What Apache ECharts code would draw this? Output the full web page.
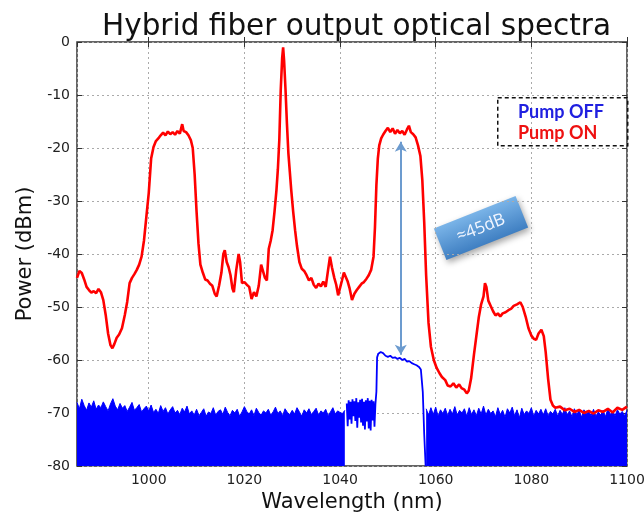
<!DOCTYPE html>
<html>
<head>
<meta charset="utf-8">
<script src="https://cdn.jsdelivr.net/npm/echarts@6/dist/echarts.min.js"></script>
<style>html,body{margin:0;padding:0;background:#fff;}#chart{width:644px;height:513px;}</style>
</head>
<body>
<div id="chart"></div>
<script>
// ---- Data ----
var xTicks = [1000, 1020, 1040, 1060, 1080, 1100];
var yTicks = [0, -10, -20, -30, -40, -50, -60, -70, -80];

// Pump ON (red) spectrum
var onWavelength = [985,985.5,986,986.5,987,987.5,988,988.5,989,989.5,990,990.5,991,991.5,992,992.4,992.8,993.3,993.8,994.4,995,995.5,996,996.5,997,997.5,998,998.5,999,999.5,1000,1000.5,1001,1001.5,1002,1002.5,1003,1003.5,1004,1004.5,1005,1005.5,1006,1006.5,1007,1007.3,1007.8,1008.3,1008.8,1009.2,1009.6,1010,1010.4,1010.8,1011.3,1011.8,1012.3,1012.8,1013.3,1013.8,1014.2,1014.7,1015.2,1015.6,1015.9,1016.3,1016.7,1017.1,1017.5,1017.8,1018.3,1018.8,1019.1,1019.5,1020,1020.5,1021,1021.5,1022,1022.5,1023,1023.5,1023.9,1024.3,1024.7,1025.1,1025.5,1025.9,1026.3,1026.7,1027,1027.3,1027.6,1027.9,1028.1,1028.3,1028.6,1028.9,1029.2,1029.5,1029.8,1030.2,1030.6,1031,1031.5,1032,1032.5,1033,1033.5,1034,1034.5,1035,1035.5,1036,1036.5,1037,1037.5,1037.9,1038.3,1038.8,1039.2,1039.6,1040,1040.4,1040.8,1041.2,1041.6,1042,1042.5,1043,1043.5,1044,1044.5,1045,1045.5,1046,1046.5,1047,1047.3,1047.6,1047.9,1048.2,1048.6,1049,1049.5,1050,1050.5,1051,1051.5,1052,1052.5,1053,1053.5,1054,1054.4,1054.8,1055.3,1055.8,1056.3,1056.8,1057.2,1057.6,1058,1058.5,1059,1059.6,1060.2,1060.8,1061.3,1062,1062.5,1063.1,1063.7,1064.3,1064.9,1065.4,1066,1066.5,1066.9,1067.4,1068,1068.5,1069,1069.5,1070,1070.3,1070.6,1071,1071.5,1072,1072.5,1073,1073.5,1074,1074.6,1075.2,1075.8,1076.3,1077,1077.7,1078.2,1078.8,1079.4,1080,1080.5,1081,1081.5,1082.1,1082.6,1083,1083.5,1084,1084.5,1085,1086,1087,1088,1089,1090,1091,1092,1093,1094,1095,1096,1097,1098,1099,1100];
var onPower = [-44.5,-43.2,-43.6,-44.8,-46.2,-46.8,-47.3,-47.0,-47.4,-46.6,-47.2,-48.7,-51.5,-55,-57.2,-57.8,-57.0,-55.8,-55.2,-54,-51.5,-49,-45.5,-44.5,-43.8,-43,-42,-40.5,-37.5,-33,-28.5,-22,-19.8,-18.7,-18.2,-17.6,-17.1,-17.6,-16.9,-17.4,-17.0,-17.5,-16.8,-17.3,-15.5,-16.8,-17.0,-17.6,-18.5,-20,-25,-32,-38,-42,-43.5,-44.8,-45,-45.6,-46,-47.5,-48,-46,-43.5,-40,-39.3,-41.5,-42.5,-44,-46.5,-47.2,-43,-40,-41.5,-45.5,-45.3,-45.8,-46.2,-48.5,-47.2,-48,-46,-42,-41.8,-44.5,-45,-39,-37.5,-35.5,-32,-28,-24,-18.5,-9,-3,-1,-3.5,-9,-15.5,-21,-24.5,-28,-32,-35.5,-38.5,-41.5,-42.8,-43.2,-44,-45,-44.5,-45.8,-46.4,-45.6,-46.1,-45.2,-46.2,-43,-40.5,-42.5,-44.5,-45.8,-47.8,-47.6,-45,-43.5,-43.2,-45.2,-46.5,-48.7,-47.5,-46.8,-46.2,-45.6,-45.3,-44.7,-44,-43,-40.5,-35,-27,-22,-19.5,-18.2,-17.5,-16.8,-16.2,-17.0,-16.3,-17.3,-16.6,-17.2,-16.8,-17.5,-16.5,-15.8,-17.0,-17.4,-18.0,-19.5,-21.5,-26,-34,-44,-53,-57.5,-60,-61.5,-62.5,-63.2,-63.8,-64.8,-65,-64.4,-65.2,-64.6,-65.3,-65.6,-66.3,-65.8,-63.5,-59,-55.5,-52,-49.5,-48,-45.5,-46.2,-48.8,-49.8,-50.8,-51.6,-51.2,-51.8,-51.2,-51,-50.6,-50.3,-49.8,-49.5,-49.1,-50,-51.8,-54,-55.4,-56,-56.2,-55,-54.3,-55.5,-58.5,-63.5,-67.5,-68.6,-69,-68.8,-69.5,-69.2,-69.8,-69.4,-70,-69.6,-70.1,-69.5,-69.8,-69.2,-69.9,-69,-69.4,-68.8];

// Pump OFF (blue) noise floor, sampled every 0.5 nm
var offFloorLeftStart = 985;
var offFloorLeft = [-68.0,-69.2,-67.4,-68.6,-69.5,-68.1,-68.9,-67.7,-69.3,-68.5,
 -69.0,-67.9,-68.8,-69.6,-68.3,-67.3,-68.7,-69.4,-68.2,-69.1,
 -68.6,-69.7,-68.9,-68.0,-69.5,-69.0,-68.4,-69.8,-69.2,-68.7,
 -69.6,-68.5,-69.9,-69.3,-70.1,-68.6,-69.7,-69.0,-70.2,-69.4,
 -68.8,-70.0,-69.5,-70.3,-69.1,-69.8,-68.7,-70.2,-69.6,-70.4,
 -69.3,-70.5,-69.9,-69.2,-70.6,-69.8,-70.1,-69.0,-70.4,-69.7,
 -69.4,-70.3,-68.9,-69.9,-70.5,-69.5,-70.0,-69.3,-70.6,-69.8,
 -68.8,-69.7,-70.2,-69.4,-70.5,-69.1,-69.9,-70.4,-69.6,-70.0,
 -69.3,-70.4,-69.8,-68.9,-70.1,-69.6,-70.5,-69.2,-69.9,-70.3,
 -69.5,-70.2,-69.0,-69.8,-70.6,-69.4,-70.0,-69.2,-70.3,-69.7,
 -69.1,-70.4,-69.6,-70.0,-69.3,-70.5,-69.8,-69.0,-70.2,-69.6,
 -69.9,-70.1,-69.5];
var offFloorRightStart = 1058;
var offFloorRight = [-69.2,-70.4,-69.0,-70.3,-68.9,-70.6,-69.4,-70.1,-69.1,-70.5,
 -69.3,-70.2,-68.8,-70.4,-69.5,-70.0,-69.2,-70.6,-69.0,-70.3,
 -69.4,-70.5,-69.1,-70.2,-68.7,-70.4,-69.3,-70.1,-69.6,-70.7,
 -69.0,-70.3,-69.5,-70.8,-69.2,-70.0,-68.9,-70.5,-69.4,-70.9,
 -69.1,-70.3,-69.6,-70.1,-69.0,-70.6,-69.5,-70.2,-69.3,-70.4,
 -69.2,-70.5,-69.7,-70.2,-69.3,-70.6,-69.5,-70.3,-69.0,-70.4,
 -69.6,-70.7,-69.2,-70.3,-69.5,-70.8,-69.4,-70.2,-69.7,-70.5,
 -69.3,-70.6,-69.8,-70.4,-69.5,-70.7,-69.2,-70.3,-69.6,-70.5,
 -69.4,-70.2,-69.7,-70.5,-69.5];

// Pump OFF (blue) signal band
var offSignalWavelength = [1041.4,1041.6,1041.8,1042.0,1042.2,1042.4,1042.6,1042.8,1043.0,1043.2,1043.4,1043.6,1043.8,1044.0,1044.2,1044.4,1044.6,1044.8,1045.0,1045.2,1045.4,1045.6,1045.8,1046.0,1046.2,1046.4,1046.6,1046.8,1047.0,1047.2,1047.4,1047.6,1047.75,1048,1048.5,1049,1049.5,1050,1050.5,1051,1051.5,1052,1052.5,1053,1053.5,1054,1054.5,1055,1055.5,1056,1056.5,1056.9,1057.3,1057.6,1057.9];
var offSignalPower = [-68.2,-72.5,-67.6,-71.2,-67.9,-72.0,-67.4,-70.6,-67.8,-71.5,-67.2,-72.8,-68.0,-70.9,-67.5,-71.8,-67.3,-72.4,-67.9,-73.1,-67.6,-71.6,-67.2,-72.9,-67.7,-73.3,-67.5,-71.4,-67.8,-72.6,-68.3,-66,-59.5,-58.8,-58.5,-58.7,-59.2,-59.4,-59.2,-59.6,-59.5,-59.8,-59.6,-60,-59.8,-60.3,-60.2,-60.6,-60.8,-61,-61.3,-61.8,-66,-74,-80];

// Gain annotation (arrow between the two spectra)
var arrowWavelength = 1052.7;
var arrowTop = -18.8;
var arrowBottom = -59;
var gainLabel = '\u224845dB';

var legendNames = ['Pump OFF', 'Pump ON'];

// ---- Build series data ----
function zip(xs, ys) { return xs.map(function (x, i) { return [x, ys[i]]; }); }
function sampled(start, ys) { return ys.map(function (y, i) { return [start + i * 0.5, y]; }); }

var onData = zip(onWavelength, onPower);
var floorData = sampled(offFloorLeftStart, offFloorLeft).concat([[null, null]]).concat(sampled(offFloorRightStart, offFloorRight));
var offSignalData = zip(offSignalWavelength, offSignalPower);

var BLUE = '#0000ff', RED = '#ff0000';
var FONT = 'DejaVu Sans';

var chart = echarts.init(document.getElementById('chart'), null, {renderer: 'canvas'});
chart.setOption({
  animation: false,
  backgroundColor: '#ffffff',
  title: {
    text: 'Hybrid fiber output optical spectra',
    left: 97, top: 7,
    textStyle: {fontFamily: FONT, fontSize: 29.5, fontWeight: 'normal', color: '#111'}
  },
  grid: {left: 77, right: 17, top: 42, bottom: 47, show: true, borderColor: '#333', borderWidth: 1.5,
    backgroundColor: 'transparent', containLabel: false, outerBoundsMode: 'none'},
  legend: {
    orient: 'vertical', left: 508, top: 98, itemWidth: 0, itemHeight: 0, itemGap: 3,
    selectedMode: false, icon: 'rect',
    textStyle: {fontFamily: 'Lato', fontWeight: 'bold', fontSize: 18},
    data: [
      {name: legendNames[0], textStyle: {color: '#2020e0'}},
      {name: legendNames[1], textStyle: {color: '#ee1111'}}
    ]
  },
  xAxis: [{
    type: 'value', min: 985, max: 1100, splitNumber: 5,
    name: 'Wavelength (nm)', nameLocation: 'middle', nameGap: 24,
    nameTextStyle: {fontFamily: FONT, fontSize: 21, color: '#111'},
    axisLine: {show: false},
    axisTick: {show: true, inside: true, length: 5, lineStyle: {color: '#333'}},
    axisLabel: {fontFamily: FONT, fontSize: 14, color: '#222', margin: 7, showMinLabel: false,
      formatter: function (v) { return xTicks.indexOf(v) >= 0 ? String(v) : ''; }},
    splitLine: {show: true, lineStyle: {color: '#aaa', type: [2, 3], width: 1}}
  }, {
    type: 'value', position: 'top', min: 985, max: 1100, splitNumber: 5,
    axisLine: {show: false}, axisLabel: {show: false}, splitLine: {show: false},
    axisTick: {show: true, inside: true, length: 5, lineStyle: {color: '#333'}}
  }],
  yAxis: [{
    type: 'value', min: -80, max: 0, interval: 10,
    name: 'Power (dBm)', nameLocation: 'middle', nameGap: 40,
    nameTextStyle: {fontFamily: FONT, fontSize: 21, color: '#111'},
    axisLine: {show: false},
    axisTick: {show: true, inside: true, length: 5, lineStyle: {color: '#333'}},
    axisLabel: {fontFamily: FONT, fontSize: 14, color: '#222', margin: 7,
      formatter: function (v) { return yTicks.indexOf(v) >= 0 ? String(v) : ''; }},
    splitLine: {show: true, lineStyle: {color: '#aaa', type: [2, 3], width: 1}}
  }, {
    type: 'value', position: 'right', min: -80, max: 0, interval: 10,
    axisLine: {show: false}, axisLabel: {show: false}, splitLine: {show: false},
    axisTick: {show: true, inside: true, length: 5, lineStyle: {color: '#333'}}
  }],
  series: [
    {
      name: legendNames[0], type: 'line', data: floorData, showSymbol: false, symbol: 'none',
      connectNulls: false, lineStyle: {color: BLUE, width: 1}, itemStyle: {color: BLUE},
      areaStyle: {color: BLUE, opacity: 1, origin: 'start'}, z: 2
    },
    {
      name: legendNames[0], type: 'line', data: offSignalData, showSymbol: false, symbol: 'none',
      lineStyle: {color: BLUE, width: 1.8}, itemStyle: {color: BLUE}, z: 2
    },
    {
      name: legendNames[1], type: 'line', data: onData, showSymbol: false, symbol: 'none',
      lineStyle: {color: RED, width: 2.6}, itemStyle: {color: RED}, z: 3,
      markLine: {
        silent: true, symbol: ['arrow', 'arrow'], symbolSize: [9, 10], label: {show: false},
        lineStyle: {color: '#6c9bcf', width: 2, type: 'solid'},
        data: [[{coord: [arrowWavelength, arrowTop]}, {coord: [arrowWavelength, arrowBottom]}]]
      }
    }
  ],
  graphic: [
    {
      type: 'rect', z: 1, left: 497, top: 97,
      shape: {width: 130, height: 48},
      style: {fill: 'rgba(255,255,255,0)', stroke: '#111', lineWidth: 1.5, lineDash: [4, 3]}
    },
    {
      type: 'group', x: 481, y: 228, rotation: 0.38, z: 10,
      children: [
        {
          type: 'rect', shape: {x: -44, y: -17, width: 88, height: 34},
          style: {
            fill: new echarts.graphic.LinearGradient(0, 0, 0, 1, [{offset: 0, color: '#7ab4e8'}, {offset: 1, color: '#3f7fc2'}]),
            shadowBlur: 6, shadowOffsetX: 2, shadowOffsetY: 3, shadowColor: 'rgba(0,0,0,0.35)'
          }
        },
        {
          type: 'text', style: {text: gainLabel, x: 0, y: 0, align: 'center', verticalAlign: 'middle',
            fill: '#f2f6ff', font: '17px "Open Sans"'}
        }
      ]
    }
  ]
});
</script>
</body>
</html>
